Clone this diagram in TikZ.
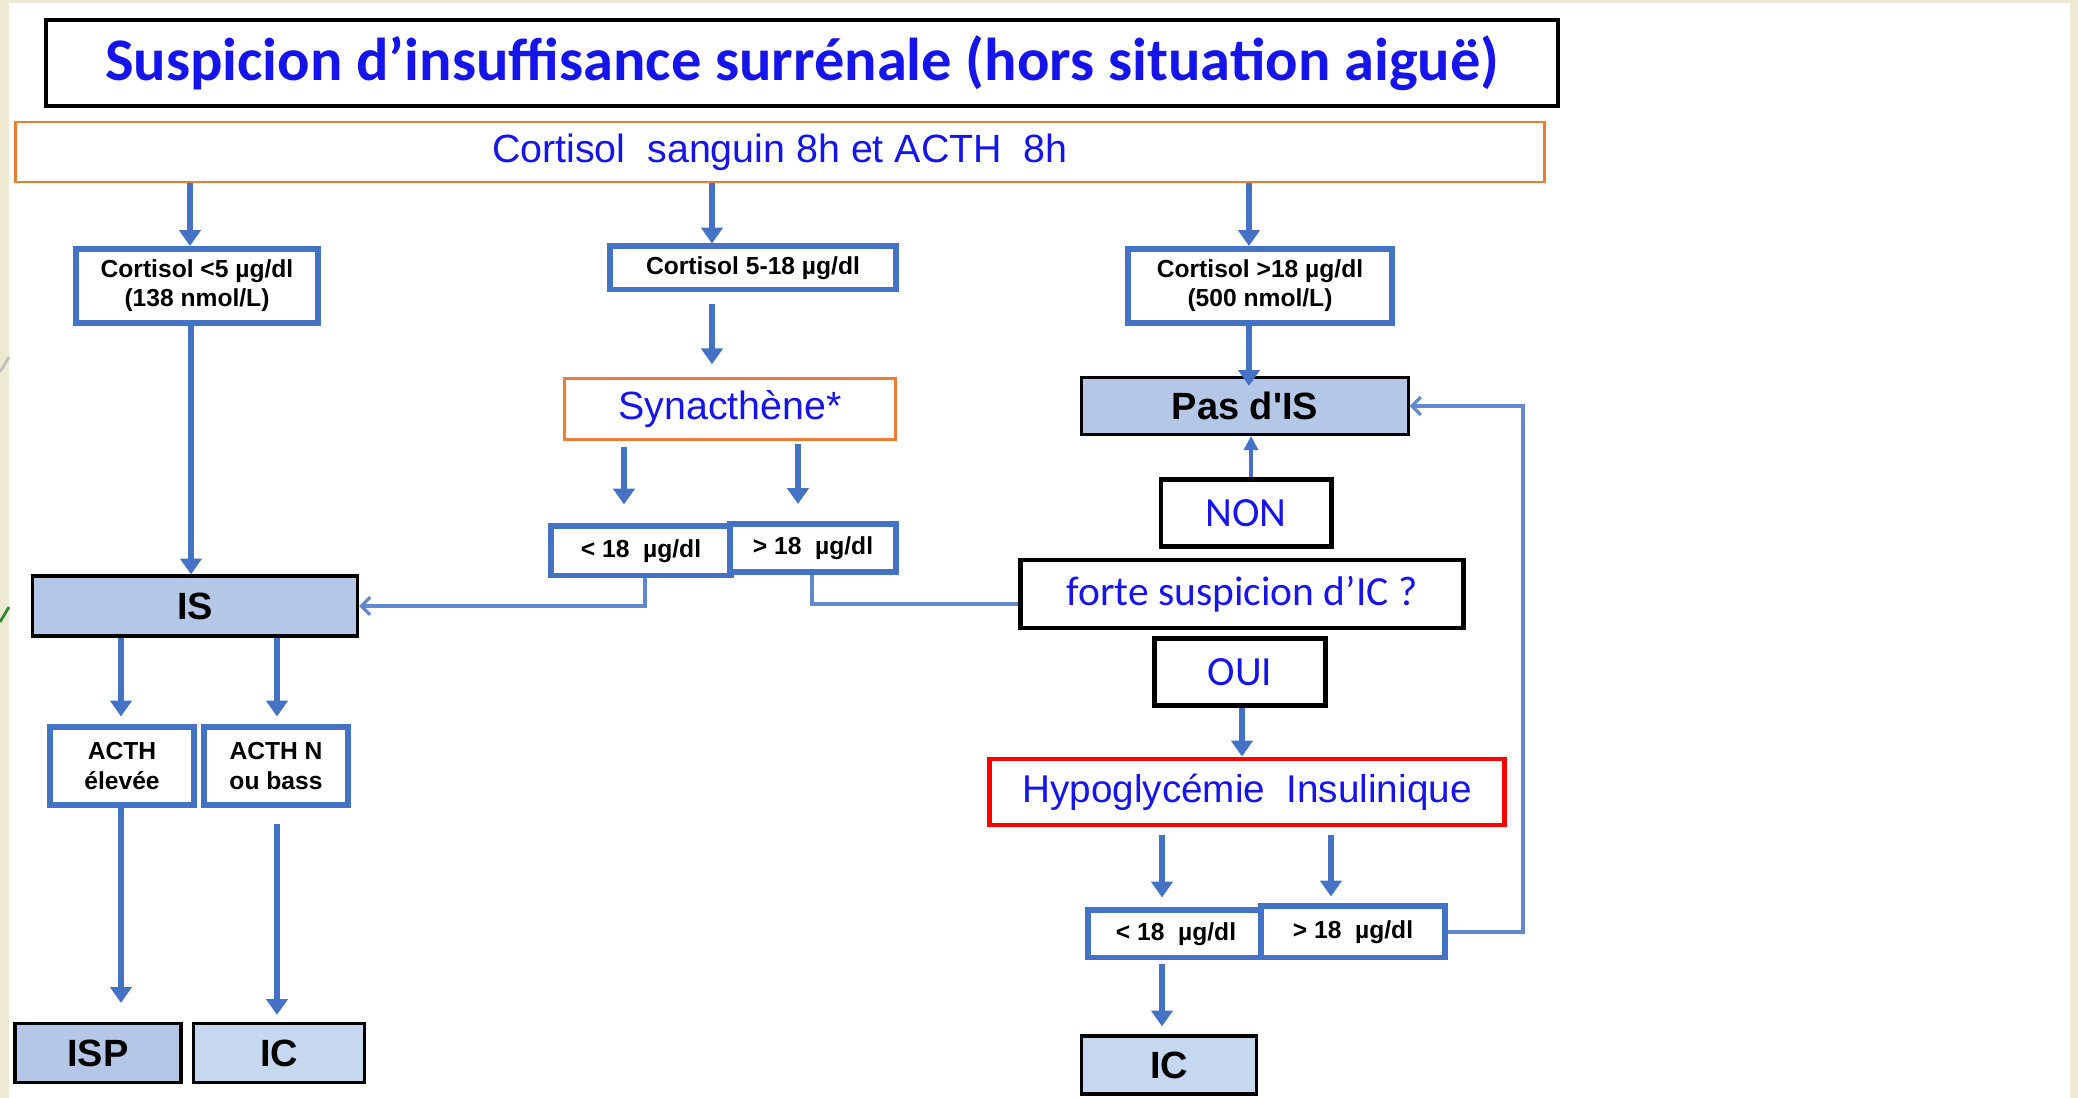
\documentclass[tikz,border=0pt]{standalone}
\usepackage{fontspec}
\setmainfont{Liberation Sans}
\newfontfamily\calib{Carlito}
\usetikzlibrary{arrows.meta}
\definecolor{lineblue}{HTML}{4472C4}
\definecolor{linkblue}{HTML}{6289CF}
\definecolor{textblue}{RGB}{20,20,235}
\definecolor{boxorange}{HTML}{ED7D31}
\definecolor{fillblue}{HTML}{B4C7E7}
\definecolor{fillpale}{HTML}{C5D8F0}
\definecolor{paper}{HTML}{EEEAD2}

\begin{document}
\begin{tikzpicture}[x=0.01cm, y=-0.01cm,
  valbox/.style={draw=lineblue, line width=1.7pt, fill=white, inner sep=0pt, align=center,
    font=\bfseries\fontsize{7}{8.3}\selectfont},
  resbox/.style={draw=black, line width=0.9pt, fill=fillblue, inner sep=0pt,
    font=\bfseries\fontsize{10.8}{13}\selectfont},
  askbox/.style={draw=black, line width=1.4pt, inner sep=0pt, text=textblue,
    font=\calib\fontsize{11.8}{14}\selectfont},
  arr/.style={draw=lineblue, line width=1.7pt, -{Triangle[width=6pt,length=4.5pt]}},
  link/.style={draw=linkblue, line width=0.9pt, -{Straight Barb[width=5pt,length=2.5pt]}}
]
\useasboundingbox (0,0) rectangle (2078,1098);
\fill[paper] (0,0) rectangle (2078,1098);
\fill[white] (9,3) rectangle (2070,1098);
\draw[black!25, line width=0.8pt] (0,372) -- (9,357);
\draw[black!45!green!60!gray, line width=0.8pt] (0,622) -- (9,607);

\node[draw=black, line width=1.1pt, minimum width=15.11cm, minimum height=0.86cm, text=textblue,
  font=\calib\bfseries\fontsize{17.2}{20}\selectfont] (title) at (802,63)
  {Suspicion d’insuffisance surrénale (hors situation aiguë)};
\node[draw=boxorange, line width=0.8pt, minimum width=15.28cm, minimum height=0.59cm, text=textblue,
  font=\fontsize{11.2}{13}\selectfont] (dosage) at (780,152) {Cortisol\ \ sanguin 8h et ACTH\ \ 8h};

\node[valbox, minimum width=2.42cm, minimum height=0.74cm] (lowC) at (197,286) {Cortisol <5 µg/dl\\(138 nmol/L)};
\node[valbox, minimum width=2.86cm, minimum height=0.43cm] (midC) at (753,268) {Cortisol 5-18 µg/dl};
\node[valbox, minimum width=2.64cm, minimum height=0.74cm] (highC) at (1260,286) {Cortisol >18 µg/dl\\(500 nmol/L)};

\node[draw=boxorange, line width=0.8pt, minimum width=3.31cm, minimum height=0.58cm, text=textblue,
  font=\fontsize{11.2}{13}\selectfont] (syn) at (730,409) {Synacthène*};
\node[valbox, minimum width=1.80cm, minimum height=0.49cm] (synlo) at (641,551) {< 18\ \ µg/dl};
\node[valbox, minimum width=1.65cm, minimum height=0.48cm] (synhi) at (813,548) {> 18\ \ µg/dl};

\node[resbox, minimum width=3.25cm, minimum height=0.60cm] (IS) at (195,606) {IS};
\node[valbox, minimum width=1.44cm, minimum height=0.77cm] (acthH) at (122,766) {ACTH\\élevée};
\node[valbox, minimum width=1.44cm, minimum height=0.77cm] (acthN) at (276,766) {ACTH N\\ou bass};
\node[resbox, minimum width=1.66cm, minimum height=0.59cm] (ISP) at (98,1053) {ISP};
\node[resbox, fill=fillpale, minimum width=1.71cm, minimum height=0.59cm] (ICa) at (279,1053) {IC};

\node[resbox, minimum width=3.26cm, minimum height=0.57cm] (noIS) at (1245,406) {Pas d\textquotesingle IS};
\node[askbox, minimum width=1.70cm, minimum height=0.67cm] (non) at (1246,513) {NON};
\node[askbox, minimum width=4.42cm, minimum height=0.68cm] (forte) at (1242,594) {forte suspicion d’IC ?};
\node[askbox, minimum width=1.71cm, minimum height=0.67cm] (oui) at (1240,672) {OUI};
\node[draw=red, line width=1.4pt, minimum width=5.14cm, minimum height=0.66cm, text=textblue,
  font=\fontsize{11}{13}\selectfont] (hypo) at (1247,792) {Hypoglycémie\ \ Insulinique};
\node[valbox, minimum width=1.76cm, minimum height=0.47cm] (hylo) at (1176,934) {< 18\ \ µg/dl};
\node[valbox, minimum width=1.83cm, minimum height=0.51cm] (hyhi) at (1353,932) {> 18\ \ µg/dl};
\node[resbox, fill=fillpale, minimum width=1.75cm, minimum height=0.58cm] (ICb) at (1169,1065) {IC};

% first level
\draw[arr] (190,0 |- dosage.south) -- (190,0 |- lowC.north);
\draw[arr] (712,0 |- dosage.south) -- (712,0 |- midC.north);
\draw[arr] (1249,0 |- dosage.south) -- (1249,0 |- highC.north);

\draw[arr] (191,0 |- lowC.south) -- (191,0 |- IS.north);
\draw[arr, shorten <=0.12cm, shorten >=0.13cm] (712,0 |- midC.south) -- (712,0 |- syn.north);
\draw[arr, shorten >=-0.1cm] (1249,0 |- highC.south) -- (1249,0 |- noIS.north);

\draw[arr, shorten <=0.06cm, shorten >=0.19cm] (624,0 |- syn.south) -- (624,0 |- synlo.north);
\draw[arr, shorten <=0.03cm, shorten >=0.17cm] (798,0 |- syn.south) -- (798,0 |- synhi.north);
\draw[link] (645,0 |- synlo.south) |- (IS.east);
\draw[draw=linkblue, line width=0.9pt] (812,0 |- synhi.south) |- ([yshift=-0.1cm]forte.west);

\draw[arr, shorten >=0.08cm] (121,0 |- IS.south) -- (121,0 |- acthH.north);
\draw[arr, shorten >=0.08cm] (277,0 |- IS.south) -- (277,0 |- acthN.north);
\draw[arr, shorten >=0.19cm] (121,0 |- acthH.south) -- (121,0 |- ISP.north);
\draw[arr, shorten <=0.16cm, shorten >=0.07cm] (277,0 |- acthN.south) -- (277,0 |- ICa.north);

% right column
\draw[draw=lineblue, line width=0.9pt, -{Triangle[width=4pt,length=4pt]}] (1251,0 |- non.north) -- (1251,0 |- noIS.south);
\draw[arr] (1242,0 |- oui.south) -- (1242,0 |- hypo.north);
\draw[arr, shorten <=0.08cm, shorten >=0.1cm] (1162,0 |- hypo.south) -- (1162,0 |- hylo.north);
\draw[arr, shorten <=0.08cm, shorten >=0.07cm] (1331,0 |- hypo.south) -- (1331,0 |- hyhi.north);
\draw[link] (hyhi.east) -- (1523,0 |- hyhi.east) |- (noIS.east);
\draw[arr, shorten <=0.04cm, shorten >=0.08cm] (1162,0 |- hylo.south) -- (1162,0 |- ICb.north);
\end{tikzpicture}
\end{document}
